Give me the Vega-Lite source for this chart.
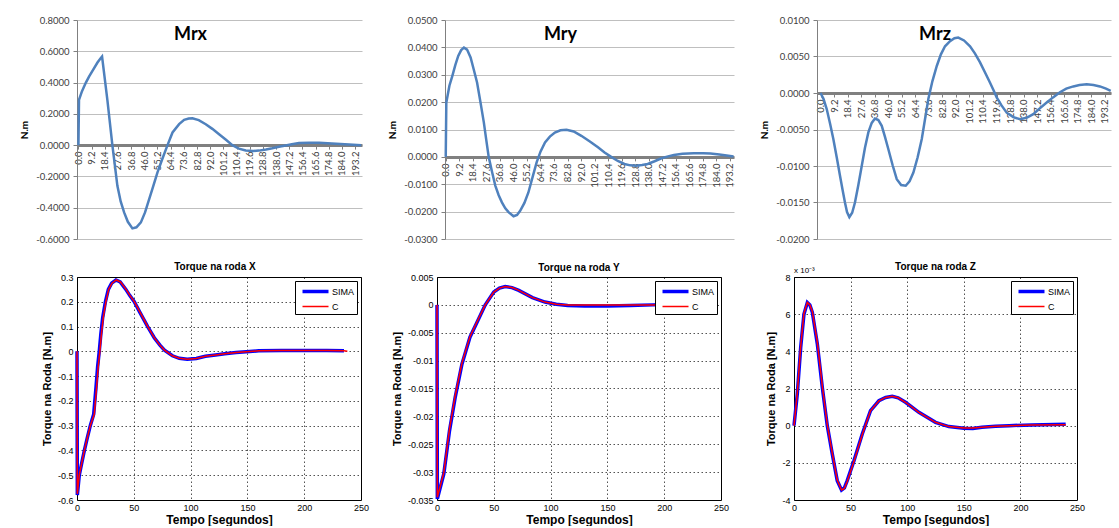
{
  "$schema": "https://vega.github.io/schema/vega-lite/v6.json",
  "background": "white",
  "padding": {"left": 19, "top": 15, "right": 0, "bottom": 0},
  "config": {
    "locale": {"number": {"decimal": ".", "thousands": ",", "grouping": [3], "currency": ["$", ""], "minus": "-"}},
    "view": {"stroke": null},
    "font": "Liberation Sans",
    "legend": {"title": null, "orient": "top-right", "offset": 4, "padding": 2, "strokeColor": "black", "fillColor": "white", "symbolType": "M-2,0H2", "symbolSize": 169,
      "symbolOffset": 10, "labelFont": "Liberation Sans", "labelFontSize": 9, "labelColor": "black", "rowPadding": 0, "labelOffset": 8}
  },
  "datasets": {
    "mrx": [
      {"t": 0, "v": 0}, {"t": 0.4, "v": 0.29}, {"t": 2.5, "v": 0.345}, {"t": 5.2, "v": 0.4}, {"t": 7.5, "v": 0.44},
      {"t": 9.8, "v": 0.475}, {"t": 13.3, "v": 0.528}, {"t": 15.5, "v": 0.555}, {"t": 16.5, "v": 0.566}, {"t": 20.2, "v": 0.29},
      {"t": 23.7, "v": 0}, {"t": 27.2, "v": -0.26}, {"t": 29.5, "v": -0.36}, {"t": 31.9, "v": -0.43}, {"t": 34.5, "v": -0.49},
      {"t": 37.7, "v": -0.532}, {"t": 40.5, "v": -0.525}, {"t": 43.6, "v": -0.494}, {"t": 46.5, "v": -0.43}, {"t": 49.4, "v": -0.345},
      {"t": 52.3, "v": -0.26}, {"t": 55.2, "v": -0.174}, {"t": 58.5, "v": -0.09}, {"t": 62.2, "v": 0}, {"t": 65.7, "v": 0.081},
      {"t": 70.3, "v": 0.134}, {"t": 73.8, "v": 0.162}, {"t": 77, "v": 0.17}, {"t": 79.6, "v": 0.172}, {"t": 84, "v": 0.16},
      {"t": 88.9, "v": 0.134}, {"t": 93.5, "v": 0.104}, {"t": 98.2, "v": 0.07}, {"t": 103, "v": 0.034}, {"t": 107.5, "v": 0},
      {"t": 112, "v": -0.022}, {"t": 116.8, "v": -0.034}, {"t": 122, "v": -0.037}, {"t": 126, "v": -0.035}, {"t": 131, "v": -0.028},
      {"t": 135.4, "v": -0.02}, {"t": 140, "v": -0.01}, {"t": 144.7, "v": -0.002}, {"t": 149, "v": 0.006}, {"t": 154, "v": 0.013},
      {"t": 161, "v": 0.016}, {"t": 168, "v": 0.015}, {"t": 177, "v": 0.01}, {"t": 183, "v": 0.007}, {"t": 189, "v": 0.004},
      {"t": 197.5, "v": 0}
    ],
    "mry": [
      {"t": 0, "v": 0}, {"t": 0.4, "v": 0.0199}, {"t": 2.5, "v": 0.026}, {"t": 4.5, "v": 0.0296}, {"t": 6.5, "v": 0.0335},
      {"t": 8.5, "v": 0.0369}, {"t": 10.5, "v": 0.039}, {"t": 12.4, "v": 0.0399}, {"t": 14.5, "v": 0.0392}, {"t": 16.9, "v": 0.0363},
      {"t": 19, "v": 0.032}, {"t": 21.3, "v": 0.0272}, {"t": 23.6, "v": 0.02}, {"t": 25.9, "v": 0.0126}, {"t": 27.6, "v": 0.006},
      {"t": 29.2, "v": 0}, {"t": 31.5, "v": -0.0055}, {"t": 33.7, "v": -0.0105}, {"t": 36, "v": -0.014}, {"t": 38.2, "v": -0.0166},
      {"t": 40.5, "v": -0.0188}, {"t": 42.7, "v": -0.0202}, {"t": 46.1, "v": -0.0217}, {"t": 48.5, "v": -0.0212}, {"t": 50.6, "v": -0.0197},
      {"t": 53.5, "v": -0.0168}, {"t": 56.2, "v": -0.013}, {"t": 59, "v": -0.0075}, {"t": 61.8, "v": -0.002}, {"t": 64.5, "v": 0.002},
      {"t": 67.5, "v": 0.0053}, {"t": 70.8, "v": 0.0074}, {"t": 74.2, "v": 0.0089}, {"t": 78, "v": 0.0097}, {"t": 82.1, "v": 0.0099},
      {"t": 87, "v": 0.0093}, {"t": 92.2, "v": 0.0077}, {"t": 98, "v": 0.0056}, {"t": 103.5, "v": 0.0035}, {"t": 108, "v": 0.0016},
      {"t": 112.5, "v": 0}, {"t": 117, "v": -0.0015}, {"t": 121.5, "v": -0.0026}, {"t": 125.5, "v": -0.0031}, {"t": 129.4, "v": -0.0032},
      {"t": 133.5, "v": -0.003}, {"t": 137.3, "v": -0.0026}, {"t": 142, "v": -0.0016}, {"t": 146.3, "v": -0.0006}, {"t": 150.5, "v": 0.0001},
      {"t": 155.2, "v": 0.0007}, {"t": 161, "v": 0.0011}, {"t": 168.7, "v": 0.0013}, {"t": 175, "v": 0.0013}, {"t": 180, "v": 0.0012},
      {"t": 186, "v": 0.0009}, {"t": 191, "v": 0.0005}, {"t": 195.7, "v": 0.0001}
    ],
    "mrz": [
      {"t": 0, "v": 0}, {"t": 2, "v": -0.0008}, {"t": 4.2, "v": -0.0022}, {"t": 6.5, "v": -0.0042}, {"t": 8.7, "v": -0.0063},
      {"t": 11, "v": -0.0088}, {"t": 13.2, "v": -0.0113}, {"t": 15, "v": -0.0133}, {"t": 16.6, "v": -0.015}, {"t": 18, "v": -0.0163},
      {"t": 19.6, "v": -0.017}, {"t": 21.5, "v": -0.0164}, {"t": 23.4, "v": -0.015}, {"t": 25.7, "v": -0.0126}, {"t": 28, "v": -0.01},
      {"t": 30.2, "v": -0.0075}, {"t": 32.5, "v": -0.0054}, {"t": 34.8, "v": -0.0041}, {"t": 37, "v": -0.0035}, {"t": 39.3, "v": -0.0037},
      {"t": 41.6, "v": -0.0045}, {"t": 43.8, "v": -0.006}, {"t": 46.1, "v": -0.0077}, {"t": 49, "v": -0.0099}, {"t": 51.8, "v": -0.0118},
      {"t": 54.8, "v": -0.0126}, {"t": 57.9, "v": -0.0127}, {"t": 60.5, "v": -0.0121}, {"t": 63.1, "v": -0.0109}, {"t": 66, "v": -0.0088},
      {"t": 68.8, "v": -0.0063}, {"t": 71, "v": -0.0036}, {"t": 73.3, "v": -0.0008}, {"t": 76, "v": 0.0016}, {"t": 79, "v": 0.0037},
      {"t": 81.8, "v": 0.0053}, {"t": 84.6, "v": 0.0064}, {"t": 88, "v": 0.0071}, {"t": 91, "v": 0.0075}, {"t": 93.6, "v": 0.0076},
      {"t": 97.5, "v": 0.0072}, {"t": 101.6, "v": 0.0064}, {"t": 105, "v": 0.0054}, {"t": 108.4, "v": 0.0042}, {"t": 111.8, "v": 0.0028},
      {"t": 115.2, "v": 0.0014}, {"t": 117.5, "v": 0.0004}, {"t": 119.7, "v": -0.0006}, {"t": 123, "v": -0.0017}, {"t": 126.5, "v": -0.0027},
      {"t": 131, "v": -0.0033}, {"t": 135.6, "v": -0.0036}, {"t": 140, "v": -0.0034}, {"t": 144.6, "v": -0.0029}, {"t": 149, "v": -0.0021},
      {"t": 153.7, "v": -0.0013}, {"t": 158, "v": -0.0006}, {"t": 162.7, "v": 0.0001}, {"t": 167, "v": 0.0006}, {"t": 171.8, "v": 0.0009},
      {"t": 176, "v": 0.0011}, {"t": 180.9, "v": 0.0012}, {"t": 185.5, "v": 0.0011}, {"t": 189.9, "v": 0.0009}, {"t": 194, "v": 0.0006},
      {"t": 197.2, "v": 0.0003}
    ],
    "tx": [
      {"s": "SIMA", "t": 0, "v": 0}, {"s": "SIMA", "t": 0.3, "v": -0.58}, {"s": "SIMA", "t": 2, "v": -0.5}, {"s": "SIMA", "t": 4.2, "v": -0.45},
      {"s": "SIMA", "t": 6.5, "v": -0.4}, {"s": "SIMA", "t": 9, "v": -0.35}, {"s": "SIMA", "t": 11.7, "v": -0.3}, {"s": "SIMA", "t": 14.7, "v": -0.254},
      {"s": "SIMA", "t": 16.7, "v": -0.147}, {"s": "SIMA", "t": 18.2, "v": -0.06}, {"s": "SIMA", "t": 19.6, "v": 0}, {"s": "SIMA", "t": 21, "v": 0.07},
      {"s": "SIMA", "t": 22.6, "v": 0.136}, {"s": "SIMA", "t": 25, "v": 0.2}, {"s": "SIMA", "t": 27.6, "v": 0.25}, {"s": "SIMA", "t": 30.5, "v": 0.275},
      {"s": "SIMA", "t": 34.3, "v": 0.288}, {"s": "SIMA", "t": 38, "v": 0.28}, {"s": "SIMA", "t": 43, "v": 0.25}, {"s": "SIMA", "t": 46.5, "v": 0.225},
      {"s": "SIMA", "t": 50.4, "v": 0.2}, {"s": "SIMA", "t": 55, "v": 0.16}, {"s": "SIMA", "t": 62.2, "v": 0.1}, {"s": "SIMA", "t": 68, "v": 0.055},
      {"s": "SIMA", "t": 73, "v": 0.025}, {"s": "SIMA", "t": 77, "v": 0.005}, {"s": "SIMA", "t": 84, "v": -0.018}, {"s": "SIMA", "t": 90, "v": -0.028},
      {"s": "SIMA", "t": 97, "v": -0.032}, {"s": "SIMA", "t": 105, "v": -0.029}, {"s": "SIMA", "t": 113, "v": -0.02}, {"s": "SIMA", "t": 122, "v": -0.015},
      {"s": "SIMA", "t": 130, "v": -0.01}, {"s": "SIMA", "t": 140, "v": -0.005}, {"s": "SIMA", "t": 152, "v": -0.001}, {"s": "SIMA", "t": 160, "v": 0.002},
      {"s": "SIMA", "t": 180, "v": 0.003}, {"s": "SIMA", "t": 200, "v": 0.003}, {"s": "SIMA", "t": 220, "v": 0.003}, {"s": "SIMA", "t": 235, "v": 0.002},
      {"s": "C", "t": 0, "v": 0}, {"s": "C", "t": 0.3, "v": -0.575}, {"s": "C", "t": 2, "v": -0.5}, {"s": "C", "t": 4.2, "v": -0.45},
      {"s": "C", "t": 6.5, "v": -0.4}, {"s": "C", "t": 9, "v": -0.35}, {"s": "C", "t": 11.7, "v": -0.3}, {"s": "C", "t": 15.2, "v": -0.254},
      {"s": "C", "t": 17.2, "v": -0.147}, {"s": "C", "t": 18.7, "v": -0.06}, {"s": "C", "t": 20.1, "v": 0}, {"s": "C", "t": 21.5, "v": 0.07},
      {"s": "C", "t": 23.1, "v": 0.136}, {"s": "C", "t": 25.4, "v": 0.2}, {"s": "C", "t": 27.9, "v": 0.25}, {"s": "C", "t": 30.8, "v": 0.275},
      {"s": "C", "t": 34.6, "v": 0.288}, {"s": "C", "t": 38.3, "v": 0.28}, {"s": "C", "t": 43.2, "v": 0.25}, {"s": "C", "t": 46.7, "v": 0.225},
      {"s": "C", "t": 50.6, "v": 0.2}, {"s": "C", "t": 55.2, "v": 0.16}, {"s": "C", "t": 62.3, "v": 0.1}, {"s": "C", "t": 68, "v": 0.055},
      {"s": "C", "t": 73, "v": 0.025}, {"s": "C", "t": 77, "v": 0.005}, {"s": "C", "t": 84, "v": -0.018}, {"s": "C", "t": 90, "v": -0.028},
      {"s": "C", "t": 97, "v": -0.032}, {"s": "C", "t": 105, "v": -0.029}, {"s": "C", "t": 113, "v": -0.02}, {"s": "C", "t": 122, "v": -0.015},
      {"s": "C", "t": 130, "v": -0.01}, {"s": "C", "t": 140, "v": -0.005}, {"s": "C", "t": 152, "v": -0.001}, {"s": "C", "t": 160, "v": 0.002},
      {"s": "C", "t": 180, "v": 0.003}, {"s": "C", "t": 200, "v": 0.003}, {"s": "C", "t": 220, "v": 0.003}, {"s": "C", "t": 235, "v": 0.002},
      {"s": "C", "t": 238, "v": 0}
    ],
    "ty": [
      {"s": "SIMA", "t": 0, "v": 0}, {"s": "SIMA", "t": 0.3, "v": -0.0348}, {"s": "SIMA", "t": 6, "v": -0.0303}, {"s": "SIMA", "t": 11, "v": -0.0226},
      {"s": "SIMA", "t": 16, "v": -0.0166}, {"s": "SIMA", "t": 22, "v": -0.0106}, {"s": "SIMA", "t": 29, "v": -0.0058}, {"s": "SIMA", "t": 36.7, "v": -0.0025},
      {"s": "SIMA", "t": 42.5, "v": 0}, {"s": "SIMA", "t": 50, "v": 0.0023}, {"s": "SIMA", "t": 55, "v": 0.003}, {"s": "SIMA", "t": 60, "v": 0.0033},
      {"s": "SIMA", "t": 66, "v": 0.0031}, {"s": "SIMA", "t": 72, "v": 0.0026}, {"s": "SIMA", "t": 84, "v": 0.0013}, {"s": "SIMA", "t": 95, "v": 0.0005},
      {"s": "SIMA", "t": 105, "v": 0.0001}, {"s": "SIMA", "t": 115, "v": -0.0001}, {"s": "SIMA", "t": 130, "v": -0.0002}, {"s": "SIMA", "t": 150, "v": -0.0002},
      {"s": "SIMA", "t": 170, "v": -0.0001}, {"s": "SIMA", "t": 190, "v": 0}, {"s": "SIMA", "t": 210, "v": 0.0001}, {"s": "SIMA", "t": 237, "v": 0.0001},
      {"s": "C", "t": 0, "v": 0}, {"s": "C", "t": 0.3, "v": -0.0345}, {"s": "C", "t": 6, "v": -0.0301}, {"s": "C", "t": 11, "v": -0.0223},
      {"s": "C", "t": 16, "v": -0.0163}, {"s": "C", "t": 22, "v": -0.0104}, {"s": "C", "t": 29, "v": -0.0057}, {"s": "C", "t": 36.7, "v": -0.0024},
      {"s": "C", "t": 42.5, "v": 0}, {"s": "C", "t": 50, "v": 0.0023}, {"s": "C", "t": 55, "v": 0.003}, {"s": "C", "t": 60, "v": 0.0033},
      {"s": "C", "t": 66, "v": 0.0031}, {"s": "C", "t": 72, "v": 0.0026}, {"s": "C", "t": 84, "v": 0.0013}, {"s": "C", "t": 95, "v": 0.0005},
      {"s": "C", "t": 105, "v": 0.0001}, {"s": "C", "t": 115, "v": 0}, {"s": "C", "t": 130, "v": 0}, {"s": "C", "t": 150, "v": 0},
      {"s": "C", "t": 170, "v": 0}, {"s": "C", "t": 190, "v": 0}, {"s": "C", "t": 210, "v": 0.0001}, {"s": "C", "t": 237, "v": 0.0001}
    ],
    "tz": [
      {"s": "SIMA", "t": 0, "v": 0}, {"s": "SIMA", "t": 2.9, "v": 1.7}, {"s": "SIMA", "t": 5.9, "v": 4.2}, {"s": "SIMA", "t": 8.8, "v": 6.0},
      {"s": "SIMA", "t": 11.8, "v": 6.63}, {"s": "SIMA", "t": 14, "v": 6.5}, {"s": "SIMA", "t": 16.2, "v": 6.1}, {"s": "SIMA", "t": 20.6, "v": 4.4},
      {"s": "SIMA", "t": 25, "v": 2.06}, {"s": "SIMA", "t": 29.4, "v": 0}, {"s": "SIMA", "t": 33.8, "v": -1.52}, {"s": "SIMA", "t": 38.2, "v": -2.96},
      {"s": "SIMA", "t": 42, "v": -3.46}, {"s": "SIMA", "t": 44.5, "v": -3.35}, {"s": "SIMA", "t": 47, "v": -2.96}, {"s": "SIMA", "t": 53, "v": -1.88},
      {"s": "SIMA", "t": 60.3, "v": -0.45}, {"s": "SIMA", "t": 67.6, "v": 0.81}, {"s": "SIMA", "t": 75, "v": 1.34}, {"s": "SIMA", "t": 81, "v": 1.52},
      {"s": "SIMA", "t": 86.8, "v": 1.58}, {"s": "SIMA", "t": 92, "v": 1.5}, {"s": "SIMA", "t": 98.5, "v": 1.26}, {"s": "SIMA", "t": 110.3, "v": 0.72},
      {"s": "SIMA", "t": 125, "v": 0.18}, {"s": "SIMA", "t": 136.8, "v": -0.05}, {"s": "SIMA", "t": 150, "v": -0.14}, {"s": "SIMA", "t": 158, "v": -0.15},
      {"s": "SIMA", "t": 166, "v": -0.08}, {"s": "SIMA", "t": 178, "v": -0.03}, {"s": "SIMA", "t": 190, "v": 0}, {"s": "SIMA", "t": 210, "v": 0.04},
      {"s": "SIMA", "t": 240, "v": 0.08},
      {"s": "C", "t": 0, "v": 0}, {"s": "C", "t": 2.9, "v": 1.75}, {"s": "C", "t": 5.9, "v": 4.25}, {"s": "C", "t": 8.8, "v": 6.05},
      {"s": "C", "t": 11.8, "v": 6.63}, {"s": "C", "t": 14, "v": 6.5}, {"s": "C", "t": 16.2, "v": 6.15}, {"s": "C", "t": 20.6, "v": 4.5},
      {"s": "C", "t": 25, "v": 2.15}, {"s": "C", "t": 29.4, "v": 0.05}, {"s": "C", "t": 33.8, "v": -1.48}, {"s": "C", "t": 38.2, "v": -2.93},
      {"s": "C", "t": 42, "v": -3.46}, {"s": "C", "t": 44.5, "v": -3.38}, {"s": "C", "t": 47, "v": -3.0}, {"s": "C", "t": 53, "v": -1.92},
      {"s": "C", "t": 60.3, "v": -0.48}, {"s": "C", "t": 67.6, "v": 0.8}, {"s": "C", "t": 75, "v": 1.34}, {"s": "C", "t": 81, "v": 1.52},
      {"s": "C", "t": 86.8, "v": 1.58}, {"s": "C", "t": 92, "v": 1.5}, {"s": "C", "t": 98.5, "v": 1.26}, {"s": "C", "t": 110.3, "v": 0.72},
      {"s": "C", "t": 125, "v": 0.18}, {"s": "C", "t": 136.8, "v": -0.05}, {"s": "C", "t": 150, "v": -0.12}, {"s": "C", "t": 158, "v": -0.13},
      {"s": "C", "t": 166, "v": -0.08}, {"s": "C", "t": 178, "v": -0.03}, {"s": "C", "t": 190, "v": 0}, {"s": "C", "t": 210, "v": 0.03},
      {"s": "C", "t": 240, "v": 0.05}
    ],
    "zlabel": [{"label": "x 10⁻³"}]
  },
  "spacing": 17,
  "resolve": {"scale": {"color": "independent", "strokeWidth": "independent"}, "legend": {"color": "independent", "strokeWidth": "independent"}},
  "vconcat": [
    {
      "spacing": 20,
      "resolve": {"scale": {"color": "independent", "strokeWidth": "independent"}},
      "hconcat": [
        {
          "width": 285, "height": 219,
          "data": {"name": "mrx"},
          "title": {"text": "Mrx", "font": "Lato", "fontSize": 18, "fontWeight": "bold", "color": "black", "baseline": "middle", "offset": -17, "dx": -29, "dy": 21},
          "mark": {"type": "line", "color": "#4f81bd", "strokeWidth": 2.5},
          "encoding": {
            "x": {"field": "t", "type": "quantitative", "scale": {"domain": [-1, 198], "nice": false, "zero": false},
              "axis": {"title": null, "values": [0, 9.2, 18.4, 27.6, 36.8, 46, 55.2, 64.4, 73.6, 82.8, 92, 101.2, 110.4, 119.6, 128.8, 138, 147.2, 156.4, 165.6, 174.8, 184, 193.2],
                "format": ".1f", "labelAngle": 270, "labelFont": "Lato", "labelFontSize": 9.5, "labelColor": "#404040", "labelPadding": 2, "labelOverlap": false,
                "offset": -93.9, "domainColor": "#808080", "domainWidth": 3, "tickColor": "#808080", "tickSize": 4, "grid": false}},
            "y": {"field": "v", "type": "quantitative", "scale": {"domain": [-0.6, 0.8], "nice": false},
              "axis": {"title": "N.m", "titleFont": "Lato", "titleFontSize": 10, "titleFontWeight": "bold", "titleColor": "black", "titlePadding": 6,
                "values": [-0.6, -0.4, -0.2, 0, 0.2, 0.4, 0.6, 0.8], "format": ".4f", "labelFont": "Lato", "labelFontSize": 9.5, "labelColor": "#404040",
                "labelPadding": 4, "tickSize": 4, "tickColor": "#808080", "domainColor": "#808080", "gridColor": "#bfbfbf", "gridWidth": 1.2}}
          }
        },
        {
          "width": 289, "height": 219,
          "data": {"name": "mry"},
          "title": {"text": "Mry", "font": "Lato", "fontSize": 18, "fontWeight": "bold", "color": "black", "baseline": "middle", "offset": -17, "dx": -29, "dy": 21},
          "mark": {"type": "line", "color": "#4f81bd", "strokeWidth": 2.5},
          "encoding": {
            "x": {"field": "t", "type": "quantitative", "scale": {"domain": [-0.5, 196], "nice": false, "zero": false},
              "axis": {"title": null, "values": [0, 9.2, 18.4, 27.6, 36.8, 46, 55.2, 64.4, 73.6, 82.8, 92, 101.2, 110.4, 119.6, 128.8, 138, 147.2, 156.4, 165.6, 174.8, 184, 193.2],
                "format": ".1f", "labelAngle": 270, "labelFont": "Lato", "labelFontSize": 9.5, "labelColor": "#404040", "labelPadding": 2, "labelOverlap": false,
                "offset": -82.1, "domainColor": "#808080", "domainWidth": 3, "tickColor": "#808080", "tickSize": 4, "grid": false}},
            "y": {"field": "v", "type": "quantitative", "scale": {"domain": [-0.03, 0.05], "nice": false},
              "axis": {"title": "N.m", "titleFont": "Lato", "titleFontSize": 10, "titleFontWeight": "bold", "titleColor": "black", "titlePadding": 6,
                "values": [-0.03, -0.02, -0.01, 0, 0.01, 0.02, 0.03, 0.04, 0.05], "format": ".4f", "labelFont": "Lato", "labelFontSize": 9.5, "labelColor": "#404040",
                "labelPadding": 4, "tickSize": 4, "tickColor": "#808080", "domainColor": "#808080", "gridColor": "#bfbfbf", "gridWidth": 1.2}}
          }
        },
        {
          "width": 294, "height": 219,
          "data": {"name": "mrz"},
          "title": {"text": "Mrz", "font": "Lato", "fontSize": 18, "fontWeight": "bold", "color": "black", "baseline": "middle", "offset": -17, "dx": -29, "dy": 21},
          "mark": {"type": "line", "color": "#4f81bd", "strokeWidth": 2.5},
          "encoding": {
            "x": {"field": "t", "type": "quantitative", "scale": {"domain": [-2.4, 197.4], "nice": false, "zero": false},
              "axis": {"title": null, "values": [0, 9.2, 18.4, 27.6, 36.8, 46, 55.2, 64.4, 73.6, 82.8, 92, 101.2, 110.4, 119.6, 128.8, 138, 147.2, 156.4, 165.6, 174.8, 184, 193.2],
                "format": ".1f", "labelAngle": 270, "labelFont": "Lato", "labelFontSize": 9.5, "labelColor": "#404040", "labelPadding": 2, "labelOverlap": false,
                "offset": -146, "domainColor": "#808080", "domainWidth": 3, "tickColor": "#808080", "tickSize": 4, "grid": false}},
            "y": {"field": "v", "type": "quantitative", "scale": {"domain": [-0.02, 0.01], "nice": false},
              "axis": {"title": "N.m", "titleFont": "Lato", "titleFontSize": 10, "titleFontWeight": "bold", "titleColor": "black", "titlePadding": 6,
                "values": [-0.02, -0.015, -0.01, -0.005, 0, 0.005, 0.01], "format": ".4f", "labelFont": "Lato", "labelFontSize": 9.5, "labelColor": "#404040",
                "labelPadding": 4, "tickSize": 4, "tickColor": "#808080", "domainColor": "#808080", "gridColor": "#bfbfbf", "gridWidth": 1.2}}
          }
        }
      ]
    },
    {
      "spacing": 35,
      "resolve": {"scale": {"color": "independent", "strokeWidth": "independent"}, "legend": {"color": "independent", "strokeWidth": "independent"}},
      "hconcat": [
        {
          "spacing": 20,
          "resolve": {"scale": {"color": "independent", "strokeWidth": "independent"}, "legend": {"color": "independent", "strokeWidth": "independent"}},
          "hconcat": [
            {
              "width": 284, "height": 223,
              "view": {"stroke": "black", "strokeWidth": 1},
              "data": {"name": "tx"},
              "title": {"text": "Torque na roda X", "font": "Liberation Sans", "fontSize": 10, "fontWeight": "bold", "color": "black", "baseline": "middle", "offset": 6, "dx": -4, "dy": 10},
              "mark": {"type": "line"},
              "encoding": {
                "x": {"field": "t", "type": "quantitative", "scale": {"domain": [0, 250], "nice": false},
                  "axis": {"title": "Tempo [segundos]", "titleFont": "Liberation Sans", "titleFontSize": 12, "titleFontWeight": "bold", "titleColor": "black", "titlePadding": 2,
                    "values": [0, 50, 100, 150, 200, 250], "format": "d", "labelFont": "Liberation Sans", "labelFontSize": 9, "labelColor": "black", "labelPadding": 3, "labelFlush": false,
                    "ticks": false, "domain": false, "grid": true, "gridColor": "#000000", "gridDash": [1.5, 2.5], "gridWidth": 0.8, "gridOpacity": 0.85}},
                "y": {"field": "v", "type": "quantitative", "scale": {"domain": [-0.6, 0.3], "nice": false},
                  "axis": {"title": "Torque na Roda [N.m]", "titleFont": "Liberation Sans", "titleFontSize": 11, "titleFontWeight": "bold", "titleColor": "black", "titlePadding": 5,
                    "values": [-0.6, -0.5, -0.4, -0.3, -0.2, -0.1, 0, 0.1, 0.2, 0.3], "format": "~g", "labelFont": "Liberation Sans", "labelFontSize": 9, "labelColor": "black", "labelPadding": 4,
                    "ticks": false, "domain": false, "grid": true, "gridColor": "#000000", "gridDash": [1.5, 2.5], "gridWidth": 0.8, "gridOpacity": 0.85}},
                "color": {"field": "s", "type": "nominal", "scale": {"domain": ["SIMA", "C"], "range": ["#0000ff", "#ff0000"]}},
                "strokeWidth": {"field": "s", "type": "ordinal", "scale": {"domain": ["SIMA", "C"], "range": [3.5, 1.5]}}
              }
            },
            {
              "width": 284, "height": 223,
              "view": {"stroke": "black", "strokeWidth": 1},
              "data": {"name": "ty"},
              "title": {"text": "Torque na roda Y", "font": "Liberation Sans", "fontSize": 10, "fontWeight": "bold", "color": "black", "baseline": "middle", "offset": 5, "dx": 0, "dy": 10},
              "mark": {"type": "line"},
              "encoding": {
                "x": {"field": "t", "type": "quantitative", "scale": {"domain": [0, 250], "nice": false},
                  "axis": {"title": "Tempo [segundos]", "titleFont": "Liberation Sans", "titleFontSize": 12, "titleFontWeight": "bold", "titleColor": "black", "titlePadding": 2,
                    "values": [0, 50, 100, 150, 200, 250], "format": "d", "labelFont": "Liberation Sans", "labelFontSize": 9, "labelColor": "black", "labelPadding": 3, "labelFlush": false,
                    "ticks": false, "domain": false, "grid": true, "gridColor": "#000000", "gridDash": [1.5, 2.5], "gridWidth": 0.8, "gridOpacity": 0.85}},
                "y": {"field": "v", "type": "quantitative", "scale": {"domain": [-0.035, 0.005], "nice": false},
                  "axis": {"title": "Torque na Roda [N.m]", "titleFont": "Liberation Sans", "titleFontSize": 11, "titleFontWeight": "bold", "titleColor": "black", "titlePadding": 5,
                    "values": [-0.035, -0.03, -0.025, -0.02, -0.015, -0.01, -0.005, 0, 0.005], "format": "~g", "labelFont": "Liberation Sans", "labelFontSize": 9, "labelColor": "black", "labelPadding": 4,
                    "ticks": false, "domain": false, "grid": true, "gridColor": "#000000", "gridDash": [1.5, 2.5], "gridWidth": 0.8, "gridOpacity": 0.85}},
                "color": {"field": "s", "type": "nominal", "scale": {"domain": ["SIMA", "C"], "range": ["#0000ff", "#ff0000"]}},
                "strokeWidth": {"field": "s", "type": "ordinal", "scale": {"domain": ["SIMA", "C"], "range": [3.5, 1.5]}}
              }
            }
          ]
        },
        {
          "width": 283, "height": 223,
          "view": {"stroke": "black", "strokeWidth": 1},
          "title": {"text": "Torque na roda Z", "font": "Liberation Sans", "fontSize": 10, "fontWeight": "bold", "color": "black", "baseline": "middle", "offset": 0, "dx": 0, "dy": 10},
          "encoding": {
            "x": {"type": "quantitative", "scale": {"domain": [0, 250], "nice": false},
              "axis": {"title": "Tempo [segundos]", "titleFont": "Liberation Sans", "titleFontSize": 12, "titleFontWeight": "bold", "titleColor": "black", "titlePadding": 2,
                "values": [0, 50, 100, 150, 200, 250], "format": "d", "labelFont": "Liberation Sans", "labelFontSize": 9, "labelColor": "black", "labelPadding": 3, "labelFlush": false,
                "ticks": false, "domain": false, "grid": true, "gridColor": "#000000", "gridDash": [1.5, 2.5], "gridWidth": 0.8, "gridOpacity": 0.85}},
            "y": {"type": "quantitative", "scale": {"domain": [-4, 8], "nice": false},
              "axis": {"title": "Torque na Roda [N.m]", "titleFont": "Liberation Sans", "titleFontSize": 11, "titleFontWeight": "bold", "titleColor": "black", "titlePadding": 5,
                "values": [-4, -2, 0, 2, 4, 6, 8], "format": "d", "labelFont": "Liberation Sans", "labelFontSize": 9, "labelColor": "black", "labelPadding": 4,
                "ticks": false, "domain": false, "grid": true, "gridColor": "#000000", "gridDash": [1.5, 2.5], "gridWidth": 0.8, "gridOpacity": 0.85}}
          },
          "layer": [
            {
              "data": {"name": "tz"},
              "mark": {"type": "line"},
              "encoding": {
                "x": {"field": "t"},
                "y": {"field": "v"},
                "color": {"field": "s", "type": "nominal", "scale": {"domain": ["SIMA", "C"], "range": ["#0000ff", "#ff0000"]}},
                "strokeWidth": {"field": "s", "type": "ordinal", "scale": {"domain": ["SIMA", "C"], "range": [3.5, 1.5]}}
              }
            },
            {
              "data": {"name": "zlabel"},
              "mark": {"type": "text", "align": "left", "baseline": "bottom", "dy": -2, "font": "Liberation Sans", "fontSize": 8, "color": "black"},
              "encoding": {
                "x": {"datum": 0},
                "y": {"datum": 8},
                "text": {"field": "label"}
              }
            }
          ]
        }
      ]
    }
  ]
}
